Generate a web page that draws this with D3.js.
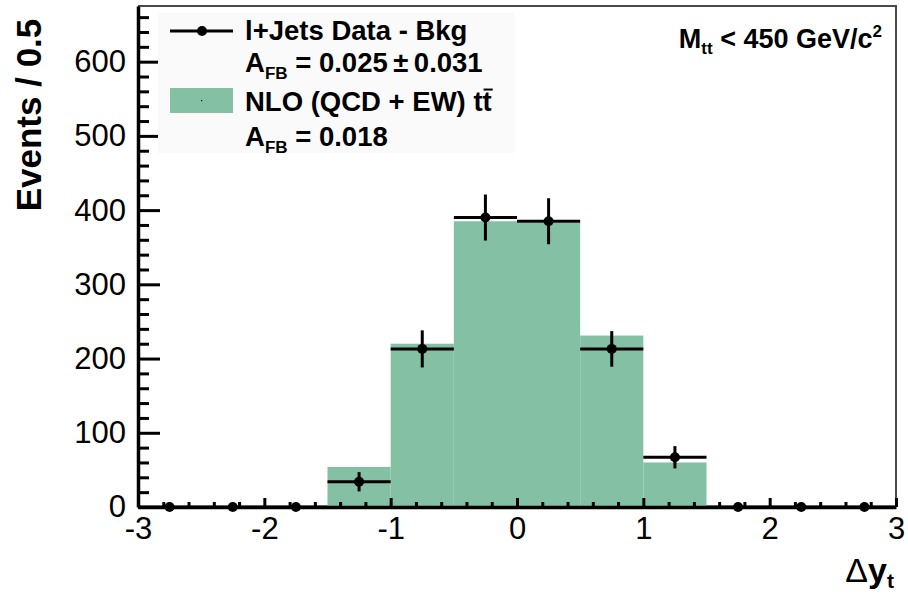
<!DOCTYPE html>
<html>
<head>
<meta charset="utf-8">
<script src="https://cdn.jsdelivr.net/npm/d3@7"></script>
<style>
  body { margin: 0; background: #fff; }
  svg { display: block; font-family: "Liberation Sans", Arial, Helvetica, sans-serif; }
</style>
</head>
<body>
<svg id="chart" width="908" height="594"></svg>
<script>
// Δy_t histogram, 0.5-wide bins from -3 to 3
const binEdges   = [-3, -2.5, -2, -1.5, -1, -0.5, 0, 0.5, 1, 1.5, 2, 2.5, 3];
const dataCounts = [0, 0, 0, 34, 213, 390, 385, 213, 67, 0, 0, 0];
const dataErrors = [0, 0, 0, 13, 25, 31, 31, 24, 15, 0, 0, 0];
const nloCounts  = [0, 0, 0, 54, 220, 385, 383, 231, 60, 0, 0, 0];

const xMajorTicks = [-3, -2, -1, 0, 1, 2, 3];
const yMajorTicks = [0, 100, 200, 300, 400, 500, 600];

const svg = d3.select("#chart");
const plot = { left: 138, right: 896, top: 6, bottom: 507 };

const x = d3.scaleLinear().domain([-3, 3]).range([plot.left, plot.right]);
const y = d3.scaleLinear().domain([0, 675]).range([plot.bottom, plot.top]);

const bins = dataCounts.map((d, i) => ({
  x0: binEdges[i], x1: binEdges[i + 1],
  xc: (binEdges[i] + binEdges[i + 1]) / 2,
  data: d, err: dataErrors[i], nlo: nloCounts[i]
}));

// NLO prediction histogram
svg.append("g").selectAll("rect")
  .data(bins.filter(b => b.nlo > 0))
  .join("rect")
  .attr("x", b => x(b.x0))
  .attr("width", b => x(b.x1) - x(b.x0))
  .attr("y", b => y(b.nlo))
  .attr("height", b => y(0) - y(b.nlo))
  .attr("fill", "#84c1a4");

// Frame (top / right)
svg.append("path")
  .attr("d", `M${plot.left},${plot.top}H${plot.right}V${plot.bottom}`)
  .attr("fill", "none").attr("stroke", "#4a4a4a").attr("stroke-width", 2);

// Minor ticks
const yMinor = d3.range(0, 680, 20).filter(v => v % 100 !== 0);
const xMinor = d3.range(-30, 31, 2).map(v => v / 10).filter(v => Math.abs(v - Math.round(v)) > 1e-6);

const yMinorAxis = svg.append("g")
  .attr("transform", `translate(${plot.left},0)`)
  .call(d3.axisLeft(y).tickValues(yMinor).tickSize(-11).tickFormat(""));
const xMinorAxis = svg.append("g")
  .attr("transform", `translate(0,${plot.bottom})`)
  .call(d3.axisBottom(x).tickValues(xMinor).tickSize(-5).tickFormat(""));
[yMinorAxis, xMinorAxis].forEach(g => {
  g.select(".domain").remove();
  g.selectAll(".tick line").attr("stroke", "#000").attr("stroke-width", 3);
});

// Major axes
const yAxis = svg.append("g")
  .attr("transform", `translate(${plot.left},0)`)
  .call(d3.axisLeft(y).tickValues(yMajorTicks).tickSize(-22).tickSizeOuter(0).tickPadding(12));
const xAxis = svg.append("g")
  .attr("transform", `translate(0,${plot.bottom})`)
  .call(d3.axisBottom(x).tickValues(xMajorTicks).tickSize(-9).tickSizeOuter(0).tickPadding(10)
    .tickFormat(d3.format("d")));
[yAxis, xAxis].forEach(g => {
  g.select(".domain").attr("stroke", "#000").attr("stroke-width", 3.5);
  g.selectAll(".tick line").attr("stroke", "#000").attr("stroke-width", 3);
  g.selectAll(".tick text").attr("fill", "#000").attr("font-size", 31)
    .attr("font-family", "'Liberation Sans', Arial, sans-serif");
});
xAxis.selectAll(".tick text").text(d => d < 0 ? "-" + Math.abs(d) : d);

// Data points with error bars
const pts = svg.append("g");
pts.selectAll("line.h").data(bins).join("line").attr("class", "h")
  .attr("x1", b => x(b.x0)).attr("x2", b => x(b.x1))
  .attr("y1", b => y(b.data)).attr("y2", b => y(b.data))
  .attr("stroke", "#000").attr("stroke-width", 3);
pts.selectAll("line.v").data(bins.filter(b => b.err > 0)).join("line").attr("class", "v")
  .attr("x1", b => x(b.xc)).attr("x2", b => x(b.xc))
  .attr("y1", b => y(b.data - b.err)).attr("y2", b => y(b.data + b.err))
  .attr("stroke", "#000").attr("stroke-width", 3);
pts.selectAll("circle").data(bins).join("circle")
  .attr("cx", b => x(b.xc)).attr("cy", b => y(b.data)).attr("r", 5)
  .attr("fill", "#000");

// Legend
const leg = svg.append("g");
leg.append("rect").attr("x", 158).attr("y", 13).attr("width", 357).attr("height", 140)
  .attr("fill", "#fafafa");
leg.append("line").attr("x1", 170).attr("x2", 233).attr("y1", 31).attr("y2", 31)
  .attr("stroke", "#000").attr("stroke-width", 3);
leg.append("circle").attr("cx", 202).attr("cy", 31).attr("r", 5).attr("fill", "#000");
leg.append("rect").attr("x", 170).attr("y", 88).attr("width", 63).attr("height", 25)
  .attr("fill", "#84c1a4");
leg.append("rect").attr("x", 201).attr("y", 100).attr("width", 1.2).attr("height", 1.2)
  .attr("fill", "#000");

const legFont = 27.5;
function afbText(yb, rest) {
  const t = leg.append("text").attr("x", 245).attr("y", yb)
    .attr("font-size", legFont).attr("font-weight", "bold").attr("fill", "#000");
  t.append("tspan").text("A");
  t.append("tspan").attr("font-size", legFont * 0.62).attr("dy", 7).text("FB");
  t.append("tspan").attr("dy", -7).text(rest);
  return t;
}
leg.append("text").attr("x", 245).attr("y", 40)
  .attr("font-size", legFont).attr("font-weight", "bold").text("l+Jets Data - Bkg");
afbText(72, " = 0.025\u2009\u00b1\u20090.031");
const nloLabel = leg.append("text").attr("x", 245).attr("y", 111)
  .attr("font-size", legFont).attr("font-weight", "bold");
nloLabel.append("tspan").text("NLO (QCD + EW) t");
nloLabel.append("tspan").text("t");
afbText(146, " = 0.018");
// overbar on the anti-top
{
  const node = nloLabel.node();
  const n = node.getNumberOfChars();
  const start = node.getStartPositionOfChar(n - 1).x;
  const end = node.getEndPositionOfChar(n - 1).x;
  leg.append("line").attr("x1", start + 1).attr("x2", end + 1)
    .attr("y1", 111 - legFont * 0.78).attr("y2", 111 - legFont * 0.78)
    .attr("stroke", "#000").attr("stroke-width", 2);
}

// Mass window label
const mLab = svg.append("text").attr("x", 882).attr("y", 48).attr("text-anchor", "end")
  .attr("font-size", 27).attr("font-weight", "bold");
mLab.append("tspan").text("M");
mLab.append("tspan").attr("font-size", 17).attr("dy", 6).text("tt");
mLab.append("tspan").attr("dy", -6).text(" < 450 GeV/c");
mLab.append("tspan").attr("font-size", 17).attr("dy", -11).text("2");

// Axis titles
svg.append("text")
  .attr("transform", `translate(41,${115}) rotate(-90)`)
  .attr("text-anchor", "middle")
  .attr("font-size", 35).attr("font-weight", "bold")
  .text("Events / 0.5");

const xt = svg.append("text").attr("x", 894).attr("y", 582).attr("text-anchor", "end")
  .attr("font-size", 34).attr("font-weight", "bold");
xt.append("tspan").attr("font-weight", "normal").text("\u0394");
xt.append("tspan").text("y");
xt.append("tspan").attr("font-size", 21).attr("dy", 6).text("t");
</script>
</body>
</html>
